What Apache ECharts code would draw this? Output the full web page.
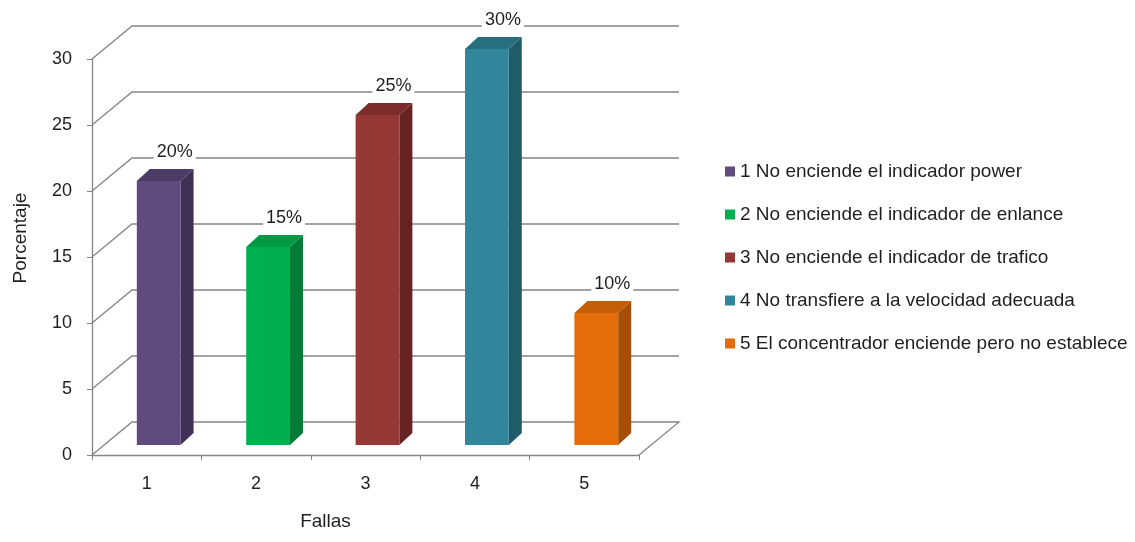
<!DOCTYPE html>
<html>
<head>
<meta charset="utf-8">
<script src="https://cdn.jsdelivr.net/npm/echarts@6/dist/echarts.min.js"></script>
<style>
  html, body { margin: 0; padding: 0; background: #fff; }
  #chart { width: 1135px; height: 542px; }
</style>
</head>
<body>
<div id="chart"></div>
<script>
// Fallas del concentrador: porcentaje por tipo de falla
const categories = ['1', '2', '3', '4', '5'];
const faultNames = [
  '1 No enciende el indicador power',
  '2 No enciende el indicador de enlance',
  '3 No enciende el indicador de trafico',
  '4 No transfiere a la velocidad adecuada',
  '5 El concentrador enciende pero no establece'
];
const percentages = [20, 15, 25, 30, 10];
const yMin = 0, yMax = 30, yStep = 5;

// Face colours for each bar: front, top, side
const palette = [
  { front: '#5f4b7d', top: '#4b3b65', side: '#3e3056' },
  { front: '#00b050', top: '#009a44', side: '#007c37' },
  { front: '#953735', top: '#7c2c2a', side: '#672321' },
  { front: '#31869c', top: '#28707f', side: '#205b69' },
  { front: '#e46c0a', top: '#c45c08', side: '#a64d06' }
];

// Pseudo-3D projection offsets (pixels)
const WALL = [40, -33];       // depth of the back wall
const BAR_FRONT = [12, -10];  // bar front plane inside the box
const BAR_DEPTH = [13, -12];  // thickness of each bar

const FONT = "'Liberation Sans', Arial, sans-serif";
const GRID_COLOR = '#858585';
const TEXT_COLOR = '#1f1f1f';

const yTicks = [];
for (let v = yMin; v <= yMax; v += yStep) yTicks.push(v);

function renderGrid(params, api) {
  const v = api.value(1);
  const p = api.coord([0, v]);
  const cs = params.coordSys;
  const left = cs.x, right = cs.x + cs.width, y = p[1];
  const pts = [[left, y], [left + WALL[0], y + WALL[1]], [right + WALL[0], y + WALL[1]]];
  if (v === yMin) pts.push([right, y]);
  return {
    type: 'polyline',
    shape: { points: pts },
    style: { stroke: GRID_COLOR, lineWidth: 1.3, fill: null },
    silent: true
  };
}

function makeBarRenderer(colors) {
  return function (params, api) {
    const cat = api.value(0), v = api.value(1);
    const base = api.coord([cat, 0]);
    const top = api.coord([cat, v]);
    const bw = api.size([1, 0])[0] * 0.4;
    const x0 = base[0] - bw / 2 + BAR_FRONT[0];
    const x1 = x0 + bw;
    const yb = base[1] + BAR_FRONT[1];
    const yt = top[1] + BAR_FRONT[1];
    const dx = BAR_DEPTH[0], dy = BAR_DEPTH[1];
    return {
      type: 'group',
      children: [
        {
          type: 'polygon',
          shape: { points: [[x1, yt], [x1 + dx, yt + dy], [x1 + dx, yb + dy], [x1, yb]] },
          style: { fill: colors.side }
        },
        {
          type: 'polygon',
          shape: { points: [[x0, yt], [x1, yt], [x1 + dx, yt + dy], [x0 + dx, yt + dy]] },
          style: { fill: colors.top }
        },
        {
          type: 'rect',
          shape: { x: x0, y: yt, width: bw, height: yb - yt },
          style: { fill: colors.front }
        },
        {
          type: 'text',
          x: (x0 + x1) / 2 + dx + 3,
          y: yt + dy - 17,
          style: {
            text: v + '%',
            font: '18px ' + FONT,
            fill: TEXT_COLOR,
            align: 'center',
            verticalAlign: 'middle',
            backgroundColor: '#fff',
            padding: [1, 3]
          }
        }
      ]
    };
  };
}

const series = [{
  type: 'custom',
  name: 'grid',
  z: 1,
  silent: true,
  renderItem: renderGrid,
  data: yTicks.map(v => [0, v]),
  encode: { x: 0, y: 1 }
}];

faultNames.forEach((name, i) => {
  series.push({
    type: 'custom',
    name: name,
    z: 2,
    itemStyle: { color: palette[i].front },
    renderItem: makeBarRenderer(palette[i]),
    data: [[i, percentages[i]]],
    encode: { x: 0, y: 1 }
  });
});

const chart = echarts.init(document.getElementById('chart'), null, { renderer: 'canvas' });
chart.setOption({
  animation: false,
  backgroundColor: '#fff',
  textStyle: { fontFamily: FONT },
  grid: { left: 92, right: 1135 - 639, top: 59, bottom: 87, containLabel: false },
  xAxis: {
    type: 'category',
    data: categories,
    boundaryGap: true,
    name: 'Fallas',
    nameLocation: 'middle',
    nameGap: 57,
    nameTextStyle: { fontSize: 19, color: TEXT_COLOR, fontFamily: FONT, padding: [0, 80, 0, 0] },
    axisLine: { show: true, lineStyle: { color: GRID_COLOR, width: 1.3 } },
    axisTick: { show: true, length: 5, alignWithLabel: false, lineStyle: { color: GRID_COLOR } },
    axisLabel: { fontSize: 18, color: TEXT_COLOR, fontFamily: FONT, margin: 20 },
    splitLine: { show: false }
  },
  yAxis: {
    type: 'value',
    min: yMin,
    max: yMax,
    interval: yStep,
    name: 'Porcentaje',
    nameLocation: 'middle',
    nameGap: 62,
    nameTextStyle: { fontSize: 19, color: TEXT_COLOR, fontFamily: FONT, padding: [0, 0, 0, 38] },
    axisLine: { show: true, lineStyle: { color: GRID_COLOR, width: 1.3 } },
    axisTick: { show: true, length: 5, lineStyle: { color: GRID_COLOR } },
    axisLabel: { fontSize: 18, color: TEXT_COLOR, fontFamily: FONT, margin: 20 },
    splitLine: { show: false }
  },
  legend: {
    orient: 'vertical',
    left: 720,
    top: 157,
    icon: 'rect',
    itemWidth: 10,
    itemHeight: 10,
    itemGap: 24,
    data: faultNames,
    textStyle: { fontSize: 19, color: TEXT_COLOR, fontFamily: FONT },
    selectedMode: false
  },
  series: series
});
</script>
</body>
</html>
